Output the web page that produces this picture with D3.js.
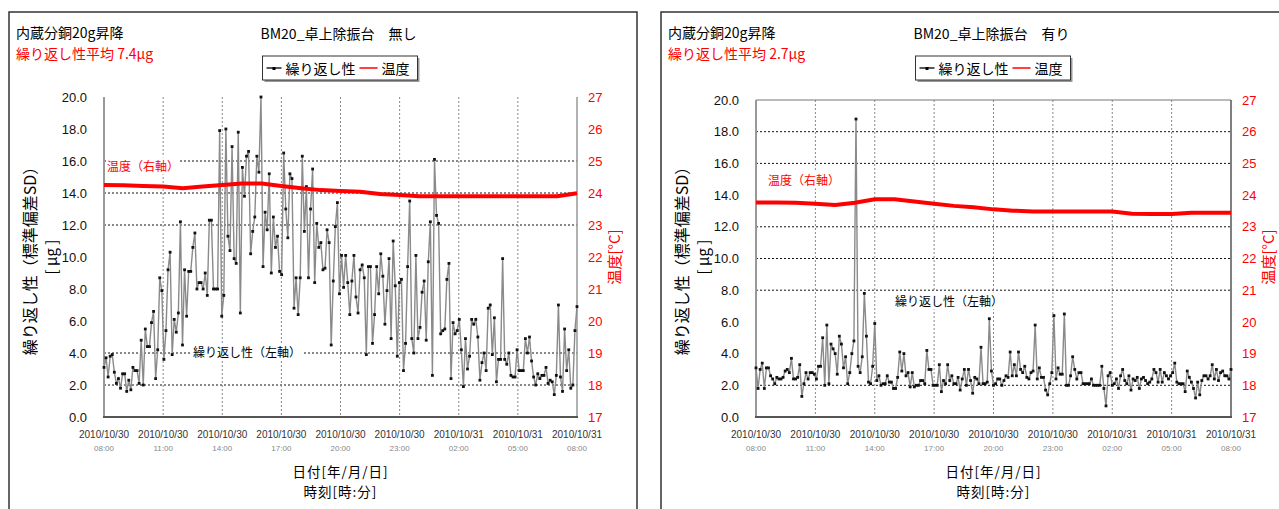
<!DOCTYPE html>
<html>
<head>
<meta charset="utf-8">
<script src="https://cdn.jsdelivr.net/npm/d3@7"></script>
<style>
  body { margin: 0; background: #fff; }
  svg { display: block; }
</style>
</head>
<body>
<svg id="c" width="1279" height="509"></svg>
<script>
// ---- axis definitions -------------------------------------------------
const hourTicks = [0, 3, 6, 9, 12, 15, 18, 21, 24];          // hours after 2010/10/30 08:00
const dateLabels = ["2010/10/30", "2010/10/30", "2010/10/30", "2010/10/30", "2010/10/30",
                    "2010/10/30", "2010/10/31", "2010/10/31", "2010/10/31"];
const timeLabels = ["08:00", "11:00", "14:00", "17:00", "20:00", "23:00", "02:00", "05:00", "08:00"];
const sdTicks = [0, 2, 4, 6, 8, 10, 12, 14, 16, 18, 20];
const tempTicks = [17, 18, 19, 20, 21, 22, 23, 24, 25, 26, 27];
const gridNoDamper = [2, 4, 12, 14, 16];
const gridDamper = [2, 8, 10, 12, 16, 18];

// ---- repeatability SD [μg], logged at a fixed interval over 24 h --------
const sdNoDamper = [
  3.1, 3.7, 2.5, 3.8, 3.9, 2.8, 2.1, 2.4, 1.8, 2.7, 2.7, 1.6, 2.3, 1.7, 3.1, 2.9, 2.9, 2.1, 4.8, 2.0,
  5.5, 4.4, 4.4, 5.9, 6.6, 2.4, 4.2, 8.7, 7.9, 3.6, 5.4, 9.2, 10.3, 3.9, 6.1, 5.3, 6.5, 12.2, 4.5, 9.2,
  6.3, 9.1, 9.1, 10.6, 11.5, 8.0, 8.4, 8.4, 8.0, 9.0, 7.6, 12.3, 12.3, 8.0, 8.0, 8.0, 17.9, 6.3, 7.6, 18.0,
  11.3, 10.4, 16.9, 9.9, 9.6, 17.8, 6.5, 15.6, 13.8, 16.3, 16.6, 10.2, 11.6, 12.5, 16.3, 15.3, 20.0, 9.4, 12.8, 11.7,
  15.2, 9.0, 12.5, 10.6, 11.3, 9.1, 8.9, 16.5, 13.0, 11.2, 15.2, 14.9, 6.8, 8.7, 6.4, 8.7,
  16.3, 11.6, 14.4, 8.7, 13.0, 15.5, 8.4, 12.1, 10.6, 10.9, 9.2, 9.3, 11.7, 10.9, 4.5, 8.5, 11.9, 13.4, 7.7, 10.1,
  8.1, 10.1, 8.4, 6.4, 8.5, 10.1, 7.5, 6.5, 9.2, 9.5, 8.7, 3.9, 9.4, 9.4, 4.6, 6.4, 9.4, 7.7, 10.2, 8.8,
  5.8, 7.9, 9.9, 4.9, 11.0, 8.2, 3.8, 8.4, 8.6, 2.9, 4.6, 9.4, 13.5, 4.9, 4.0, 10.1, 4.9, 5.6, 7.8, 8.5,
  4.8, 9.7, 12.2, 2.6, 16.1, 12.6, 12.1, 5.2, 5.4, 5.5, 8.6, 9.6, 2.4, 5.9, 5.2, 5.4, 6.1, 4.2, 1.9, 4.9,
  3.0, 3.8, 6.1, 5.8, 6.1, 5.0, 2.3, 3.4, 4.0, 2.9, 6.8, 7.0, 3.9, 6.2, 2.2, 3.6, 3.6, 9.9, 3.6, 3.3,
  4.0, 2.6, 2.5, 2.5, 4.2, 2.9, 2.9, 2.9, 4.9, 4.0, 5.0, 3.5, 2.5, 2.0, 2.7, 2.4, 2.6, 2.6, 3.1, 2.1,
  2.3, 2.2, 1.4, 2.6, 7.0, 2.5, 1.6, 5.5, 2.9, 4.2, 1.8, 2.0, 5.4, 6.9
];
const sdDamper = [
  3.1, 1.8, 3.0, 3.4, 1.8, 3.1, 3.1, 2.6, 2.4, 2.1, 2.5, 2.4, 2.4, 2.5, 2.9, 3.0, 2.8, 3.7, 2.4, 2.4,
  2.5, 3.3, 1.3, 2.1, 2.8, 2.4, 2.8, 2.8, 2.7, 2.4, 3.2, 3.2, 5.0, 2.0, 5.8, 2.1, 4.6, 4.3, 4.0, 2.7,
  5.1, 4.6, 3.1, 3.8, 2.1, 2.8, 4.0, 4.8, 18.8, 3.2, 2.8, 3.8, 7.8, 5.1, 2.2, 2.1, 3.2, 5.9, 2.3,
  2.6, 2.0, 2.1, 2.1, 2.6, 2.2, 2.2, 1.8, 1.8, 2.5, 4.1, 2.9, 4.0, 2.6, 2.8, 1.9, 2.8, 1.9, 2.0, 2.0,
  2.3, 2.3, 2.1, 4.2, 3.0, 3.0, 2.0, 2.0, 2.0, 3.3, 1.6, 2.3, 2.1, 3.3, 2.3, 2.6,
  2.1, 2.1, 2.5, 1.7, 2.4, 3.0, 2.0, 3.0, 2.3, 1.5, 2.5, 2.4, 2.1, 4.4, 2.1, 2.1, 2.2, 6.2, 2.9, 2.0,
  2.1, 2.4, 2.4, 2.0, 2.3, 2.6, 2.5, 4.1, 2.6, 3.3, 2.6, 4.1, 3.0, 2.8, 3.2, 2.5, 2.4, 2.8, 2.9, 5.8,
  2.4, 3.1, 2.5, 2.5, 1.7, 1.4, 2.1, 2.8, 6.4, 2.4, 3.1, 2.7, 2.7, 6.5, 2.0, 2.0, 2.6, 3.8, 3.0, 2.4,
  2.8, 2.8, 2.1, 2.1, 2.1, 2.1, 2.4, 2.0, 2.0, 2.0, 2.0, 3.2, 1.8, 0.7, 2.6, 2.8, 2.0, 2.1, 2.4, 1.8,
  2.6, 3.0, 2.3, 2.1, 2.6, 1.7, 2.4, 2.3, 2.5, 1.8, 2.4, 2.5, 2.3, 2.1, 2.2, 2.4, 3.0, 2.8, 2.2, 3.0,
  2.2, 2.8, 2.6, 2.4, 2.6, 2.8, 3.4, 2.2, 2.1, 2.1, 2.1, 1.6, 2.9, 2.5, 2.2, 1.8, 1.2, 2.2, 1.4, 2.3,
  2.6, 2.6, 2.4, 2.6, 3.3, 2.4, 3.0, 2.3, 2.8, 2.9, 2.6, 2.6, 2.4, 3.0
];

// ---- room temperature [°C], hourly ------------------------------------
const tempHours = [0, 1, 2, 3, 4, 5, 6, 7, 8, 9, 10, 11, 12, 13, 14, 15, 16, 17, 18, 19, 20, 21, 22, 23, 24];
const tempNoDamper = [24.25, 24.24, 24.22, 24.2, 24.15, 24.2, 24.25, 24.3, 24.3, 24.22, 24.15, 24.09, 24.06,
                      24.04, 23.97, 23.94, 23.9, 23.9, 23.9, 23.9, 23.9, 23.9, 23.9, 23.9, 23.99];
const tempDamper = [23.77, 23.77, 23.76, 23.73, 23.69, 23.76, 23.87, 23.87, 23.8, 23.73, 23.66, 23.62, 23.55,
                    23.51, 23.48, 23.48, 23.48, 23.48, 23.48, 23.41, 23.4, 23.4, 23.44, 23.44, 23.44];

const JP = "'Noto Sans CJK JP', 'Noto Sans', sans-serif";
const NUM = "'Liberation Sans', Arial, sans-serif";
const RED = "#ff0000";

const svg = d3.select("#c");

const charts = [
  {
    title: "BM20_卓上除振台　無し", note: "繰り返し性平均 7.4μg",
    sd: sdNoDamper, temp: tempNoDamper, grid: gridNoDamper,
    frame: { x: 9, y: 12 }, plot: { l: 104, r: 577, t: 97, b: 417 }, plotBox: false,
    tempNote: { x: 107, y: 167 }, sdNote: { x: 193, y: 353 }
  },
  {
    title: "BM20_卓上除振台　有り", note: "繰り返し性平均 2.7μg",
    sd: sdDamper, temp: tempDamper, grid: gridDamper,
    frame: { x: 661, y: 12 }, plot: { l: 756, r: 1231, t: 100, b: 417 }, plotBox: true,
    tempNote: { x: 768, y: 181 }, sdNote: { x: 895, y: 302 }
  }
];

charts.forEach(drawChart);

function drawChart(c) {
  const p = c.plot;
  const g = svg.append("g");
  const x = d3.scaleLinear().domain([0, 24]).range([p.l, p.r]);
  const y = d3.scaleLinear().domain([0, 20]).range([p.b, p.t]);
  const yT = d3.scaleLinear().domain([17, 27]).range([p.b, p.t]);
  const cx = (p.l + p.r) / 2;

  // outer chart frame
  g.append("rect").attr("x", c.frame.x).attr("y", c.frame.y)
    .attr("width", 628).attr("height", 560)
    .attr("fill", "#fff").attr("stroke", "#333").attr("stroke-width", 1.5);

  // headers
  g.append("text").attr("x", c.frame.x + 7).attr("y", 38)
    .style("font-family", JP).style("font-size", "14px").attr("fill", "#000")
    .text("内蔵分銅20g昇降");
  g.append("text").attr("x", c.frame.x + 7).attr("y", 59)
    .style("font-family", JP).style("font-size", "14px").attr("fill", RED)
    .text(c.note);
  g.append("text").attr("x", cx - 2).attr("y", 39).attr("text-anchor", "middle")
    .style("font-family", JP).style("font-size", "14px").attr("fill", "#000")
    .text(c.title);

  // legend
  const lx = cx - 78, ly = 56;
  g.append("rect").attr("x", lx + 2).attr("y", ly + 2).attr("width", 155).attr("height", 24).attr("fill", "#999");
  g.append("rect").attr("x", lx).attr("y", ly).attr("width", 155).attr("height", 24)
    .attr("fill", "#fff").attr("stroke", "#333").attr("stroke-width", 1);
  g.append("line").attr("x1", lx + 4).attr("x2", lx + 19).attr("y1", ly + 12).attr("y2", ly + 12)
    .attr("stroke", "#222").attr("stroke-width", 1.5);
  g.append("rect").attr("x", lx + 10).attr("y", ly + 11).attr("width", 3).attr("height", 3).attr("fill", "#000");
  g.append("text").attr("x", lx + 23).attr("y", ly + 18)
    .style("font-family", JP).style("font-size", "14px").text("繰り返し性");
  g.append("line").attr("x1", lx + 97).attr("x2", lx + 115).attr("y1", ly + 12).attr("y2", ly + 12)
    .attr("stroke", RED).attr("stroke-width", 1.5);
  g.append("text").attr("x", lx + 119).attr("y", ly + 18)
    .style("font-family", JP).style("font-size", "14px").text("温度");

  // gridlines
  g.append("g").selectAll("line").data(c.grid).join("line")
    .attr("x1", p.l).attr("x2", p.r).attr("y1", d => y(d)).attr("y2", d => y(d))
    .attr("stroke", "#111").attr("stroke-width", 1).attr("stroke-dasharray", "2,2");
  g.append("g").selectAll("line").data(hourTicks.slice(1, -1)).join("line")
    .attr("x1", d => x(d)).attr("x2", d => x(d)).attr("y1", p.t).attr("y2", p.b)
    .attr("stroke", "#888").attr("stroke-width", 1).attr("stroke-dasharray", "2,2");

  // plot frame / axis lines
  if (c.plotBox) {
    g.append("line").attr("x1", p.l).attr("x2", p.r).attr("y1", p.t).attr("y2", p.t)
      .attr("stroke", "#777").attr("stroke-width", 1);
    g.append("line").attr("x1", p.r).attr("x2", p.r).attr("y1", p.t).attr("y2", p.b)
      .attr("stroke", "#555").attr("stroke-width", 1.5);
  } else {
    g.append("line").attr("x1", p.r).attr("x2", p.r).attr("y1", p.t).attr("y2", p.b)
      .attr("stroke", "#999").attr("stroke-width", 1.5);
  }
  g.append("line").attr("x1", p.l).attr("x2", p.l).attr("y1", p.t).attr("y2", p.b)
    .attr("stroke", "#999").attr("stroke-width", 2);
  g.append("line").attr("x1", p.l - 1).attr("x2", p.r + 1).attr("y1", p.b).attr("y2", p.b)
    .attr("stroke", "#555").attr("stroke-width", 2);

  // left axis labels
  g.append("g").selectAll("text").data(sdTicks).join("text")
    .attr("x", p.l - 17).attr("y", d => y(d)).attr("dy", "0.36em").attr("text-anchor", "end")
    .style("font-family", NUM).style("font-size", "13px").attr("fill", "#111")
    .text(d => d.toFixed(1));
  // right axis labels
  g.append("g").selectAll("text").data(tempTicks).join("text")
    .attr("x", p.r + 11).attr("y", d => yT(d)).attr("dy", "0.36em")
    .style("font-family", NUM).style("font-size", "13px").attr("fill", RED)
    .text(d => d);
  // date / time labels
  const xl = g.append("g").selectAll("g").data(hourTicks).join("g");
  xl.append("text").attr("x", d => x(d)).attr("y", 438).attr("text-anchor", "middle")
    .style("font-family", NUM).style("font-size", "10px").attr("fill", "#333")
    .text((d, i) => dateLabels[i]);
  xl.append("text").attr("x", d => x(d)).attr("y", 451).attr("text-anchor", "middle")
    .style("font-family", NUM).style("font-size", "8px").attr("fill", "#888")
    .text((d, i) => timeLabels[i]);

  // x axis title (two lines)
  g.append("text").attr("x", cx).attr("y", 477).attr("text-anchor", "middle")
    .style("font-family", JP).style("font-size", "13.5px").style("letter-spacing", "1px")
    .text("日付[年/月/日]");
  g.append("text").attr("x", cx).attr("y", 497).attr("text-anchor", "middle")
    .style("font-family", JP).style("font-size", "13.5px").style("letter-spacing", "1px")
    .text("時刻[時:分]");

  // y axis titles
  const ay = 257;
  g.append("text").attr("transform", `translate(${p.l - 75},${ay}) rotate(-90)`)
    .attr("text-anchor", "middle").attr("dominant-baseline", "central")
    .style("font-family", JP).style("font-size", "16px").text("繰り返し性（標準偏差SD）");
  g.append("text").attr("transform", `translate(${p.l - 54},${ay}) rotate(-90)`)
    .attr("text-anchor", "middle").attr("dominant-baseline", "central")
    .style("font-family", JP).style("font-size", "15px").text("[ μg ]");
  g.append("text").attr("transform", `translate(${p.r + 36},${ay}) rotate(-90)`)
    .attr("text-anchor", "middle").attr("dominant-baseline", "central")
    .style("font-family", JP).style("font-size", "15px").attr("fill", RED).text("温度[°C]");

  // in-plot notes
  addNote(g, c.tempNote, "温度（右軸）", RED);
  addNote(g, c.sdNote, "繰り返し性（左軸）", "#000");

  // repeatability series
  const n = c.sd.length;
  const tx = i => x(i * 24 / (n - 1));
  g.append("path").datum(c.sd)
    .attr("d", d3.line().x((d, i) => tx(i)).y(d => y(d)))
    .attr("fill", "none").attr("stroke", "#8a8a8a").attr("stroke-width", 1.4);
  g.append("g").selectAll("rect").data(c.sd).join("rect")
    .attr("x", (d, i) => tx(i) - 1.4).attr("y", d => y(d) - 1.4)
    .attr("width", 2.8).attr("height", 2.8).attr("fill", "#111");

  // temperature series
  g.append("path").datum(c.temp)
    .attr("d", d3.line().x((d, i) => x(tempHours[i])).y(d => yT(d)))
    .attr("fill", "none").attr("stroke", RED).attr("stroke-width", 4);
}

function addNote(g, pos, label, color) {
  const t = g.append("text").attr("x", pos.x).attr("y", pos.y).attr("dy", "0.36em")
    .style("font-family", JP).style("font-size", "12px").attr("fill", color).text(label);
  const b = t.node().getBBox();
  g.insert("rect", () => t.node())
    .attr("x", b.x - 1).attr("y", b.y).attr("width", b.width + 2).attr("height", b.height)
    .attr("fill", "#fff");
}
</script>
</body>
</html>
